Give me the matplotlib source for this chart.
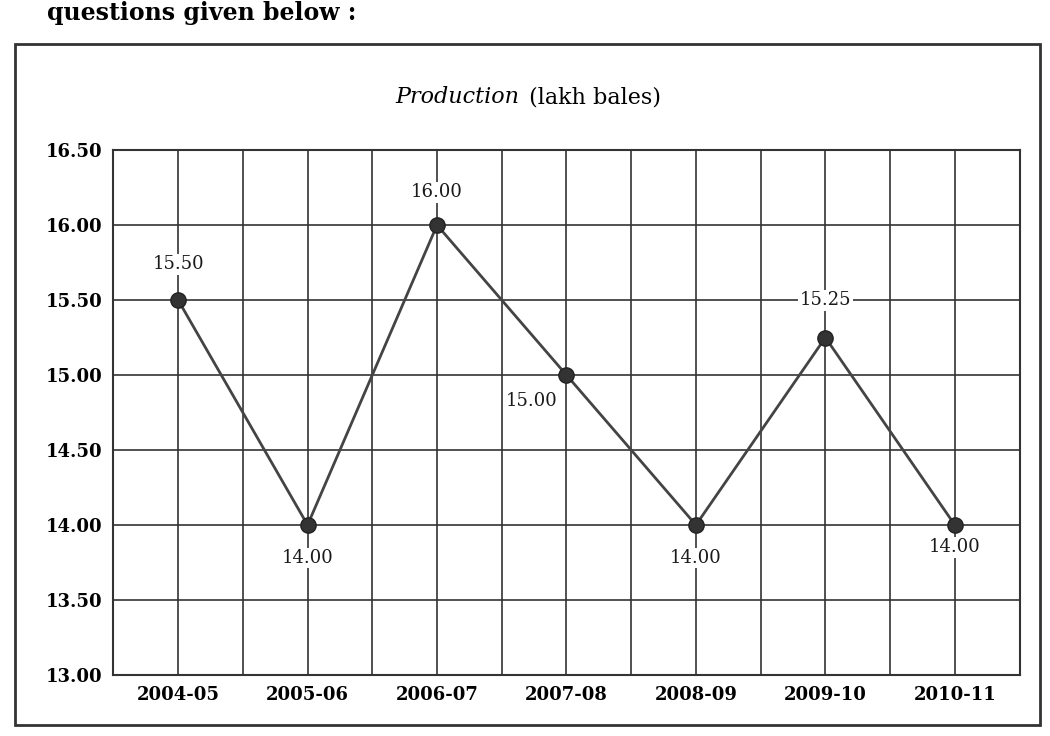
import matplotlib.pyplot as plt
from matplotlib.patches import Rectangle
import numpy as np

# Data
years = ['2004-05', '2005-06', '2006-07', '2007-08', '2008-09', '2009-10', '2010-11']
production = [15.50, 14.00, 16.00, 15.00, 14.00, 15.25, 14.00]
y_ticks = [13.00, 13.50, 14.00, 14.50, 15.00, 15.50, 16.00, 16.50]

plt.rcParams['font.family'] = ['DejaVu Serif']

fig = plt.figure(figsize=(10.5, 7.36), dpi=100)
ax = fig.add_axes([0.108, 0.083, 0.863, 0.713])

x = np.arange(len(years))
ax.plot(x, production, color='#444444', linewidth=2, marker='o',
        markersize=11, markerfacecolor='#333333', markeredgecolor='#222222', zorder=3)

# point labels
offsets = [(0.0, 0.24), (0, -0.22), (0, 0.22), (-0.27, -0.17),
           (0, -0.22), (0, 0.25), (0, -0.15)]
for xi, yi, (dx, dy) in zip(x, production, offsets):
    ax.text(xi + dx, yi + dy, f'{yi:.2f}', ha='center', va='center',
            fontsize=13, color='#1a1a1a',
            bbox=dict(facecolor='white', edgecolor='none', pad=1), zorder=4)

ax.set_xlim(-0.5, len(years) - 0.5)
ax.set_ylim(13.0, 16.5)
ax.set_yticks(y_ticks)
ax.set_yticklabels([f'{v:.2f}' for v in y_ticks], fontsize=13, fontweight='semibold')
ax.set_xticks(x)
ax.set_xticklabels(years, fontsize=13, fontweight='semibold')
ax.set_xticks(np.arange(-0.5, len(years), 1.0), minor=True)
ax.tick_params(axis='both', which='both', length=0, pad=8)
ax.grid(True, which='both', axis='x', color='#333333', linewidth=1.2)
ax.grid(True, which='major', axis='y', color='#333333', linewidth=1.2)
for s in ax.spines.values():
    s.set_color('#333333')
    s.set_linewidth(1.5)

# title with italic part
fig.text(0.495, 0.868, 'Production', ha='right', va='center', fontsize=16, style='italic')
fig.text(0.497, 0.868, ' (lakh bales)', ha='left', va='center', fontsize=16)

# question text at the top
fig.text(0.045, 0.998, 'questions given below :', ha='left', va='top',
         fontsize=17, fontweight='bold')

# outer frame
fig.patches.append(Rectangle((0.014, 0.015), 0.976, 0.925, transform=fig.transFigure,
                             fill=False, edgecolor='#333333', linewidth=2))

fig.savefig('out.png', dpi=100)
